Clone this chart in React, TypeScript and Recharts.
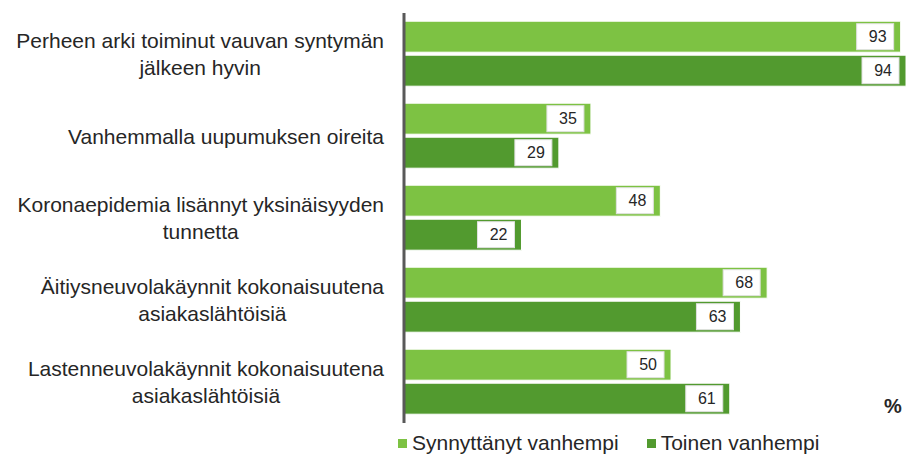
import { BarChart, Bar, XAxis, YAxis, LabelList } from 'recharts';

const categories = [
  'Perheen arki toiminut vauvan syntymän\njälkeen hyvin',
  'Vanhemmalla uupumuksen oireita',
  'Koronaepidemia lisännyt yksinäisyyden\ntunnetta',
  'Äitiysneuvolakäynnit kokonaisuutena\nasiakaslähtöisiä',
  'Lastenneuvolakäynnit kokonaisuutena\nasiakaslähtöisiä',
];
const synnyttanyt = [93, 35, 48, 68, 50];
const toinen = [94, 29, 22, 63, 61];

const seriesNames = ['Synnyttänyt vanhempi', 'Toinen vanhempi'];
const colors = ['#7DC243', '#529A2F'];

const data = categories.map((name, i) => ({ name, a: synnyttanyt[i], b: toinen[i] }));

const FONT = '"Liberation Sans", Arial, sans-serif';
const LABEL_SIZE = 21;

let ctx: CanvasRenderingContext2D | null = null;
function textWidth(s: string) {
  if (!ctx) ctx = document.createElement('canvas').getContext('2d');
  if (!ctx) return s.length * 10;
  ctx.font = `${LABEL_SIZE}px ${FONT}`;
  return ctx.measureText(s).width;
}

// Excel style: block right-aligned, lines centred inside the block
function CategoryTick(props: any) {
  const { x, y, payload } = props;
  const lines: string[] = String(payload.value).split('\n');
  const w = Math.max(...lines.map(textWidth));
  const cx = x - 12 - w / 2;
  const lh = 27;
  const y0 = y - ((lines.length - 1) * lh) / 2;
  return (
    <g>
      {lines.map((l, i) => (
        <text key={i} x={cx} y={y0 + i * lh} dy="0.36em" textAnchor="middle"
          fontSize={LABEL_SIZE} fontFamily={FONT} fill="#262626">{l}</text>
      ))}
    </g>
  );
}

function ValueBox(props: any) {
  const { x, y, width, height, value } = props;
  const bw = 37, bh = 26;
  const rx = x + width - 7 - bw;
  const ry = y + (height - bh) / 2;
  return (
    <g>
      <rect x={rx} y={ry} width={bw} height={bh} fill="#fff" stroke="#e0e0e0" strokeWidth={1} />
      <text x={rx + bw - 7} y={ry + bh / 2} dy="0.36em" textAnchor="end"
        fontSize={16} fontFamily={FONT} fill="#262626">{value}</text>
    </g>
  );
}

export default function App() {
  return (
    <div style={{ position: 'fixed', left: 0, top: 0, width: 909, height: 457, background: '#fff', fontFamily: FONT }}>
      <BarChart width={909} height={457} data={data} layout="vertical"
        margin={{ top: 13, right: 3, bottom: 34, left: 0 }}
        barCategoryGap="10%" barGap={3}>
        <XAxis type="number" domain={[0, 94]} hide />
        <YAxis type="category" dataKey="name" width={404} tick={<CategoryTick />}
          tickLine={false} axisLine={{ stroke: '#595959', strokeWidth: 3 }} interval={0} />
        <Bar dataKey="a" name={seriesNames[0]} fill={colors[0]} stroke="#fff" strokeWidth={1} isAnimationActive={false}>
          <LabelList dataKey="a" content={<ValueBox />} />
        </Bar>
        <Bar dataKey="b" name={seriesNames[1]} fill={colors[1]} stroke="#fff" strokeWidth={1} isAnimationActive={false}>
          <LabelList dataKey="b" content={<ValueBox />} />
        </Bar>
      </BarChart>
      <div style={{ position: 'absolute', left: 884, top: 395, fontSize: 20, fontWeight: 700, color: '#262626' }}>%</div>
      <div style={{ position: 'absolute', left: 398, top: 431, display: 'flex', alignItems: 'center', fontSize: 21, color: '#262626', whiteSpace: 'nowrap' }}>
        {seriesNames.map((n, i) => (
          <div key={n} style={{ display: 'flex', alignItems: 'center', marginRight: 28 }}>
            <span style={{ width: 9, height: 9, background: colors[i], marginRight: 5, display: 'inline-block' }} />
            <span>{n}</span>
          </div>
        ))}
      </div>
    </div>
  );
}
